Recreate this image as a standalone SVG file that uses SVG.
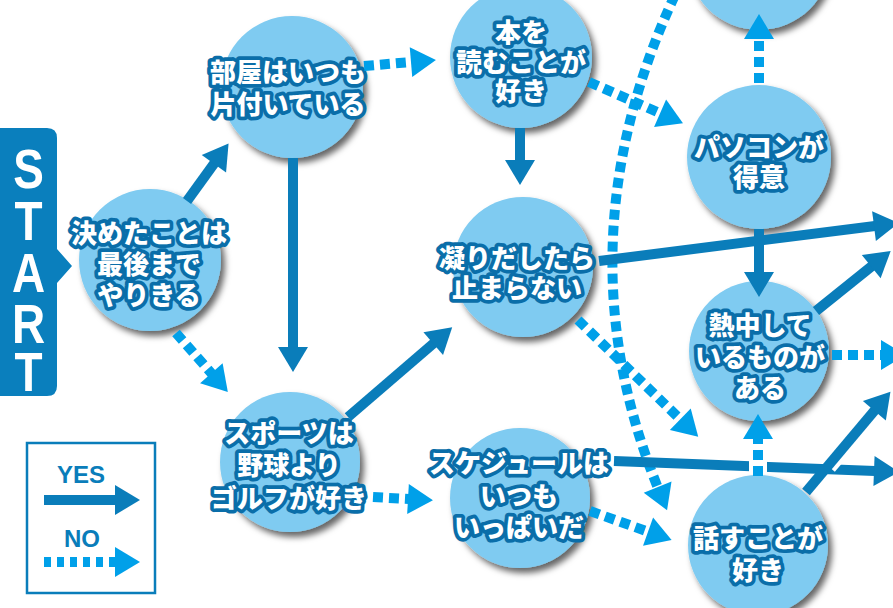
<svg xmlns="http://www.w3.org/2000/svg" width="893" height="608" viewBox="0 0 893 608">
<defs>
<style>
.node circle{fill:#7fcbf1;filter:url(#sh)}
.node text{font-family:"Noto Sans CJK JP","Noto Sans",sans-serif;font-weight:900;font-size:26px;fill:#fff;stroke:#0a6ea9;stroke-width:7.5;stroke-linejoin:round;paint-order:stroke;text-anchor:middle}
.yes{fill:none;stroke:#0a7dba;stroke-width:10;marker-end:url(#ahy)}
.no{fill:none;stroke:#00a0e9;stroke-width:10;stroke-dasharray:10 6;marker-end:url(#ahn)}
.start text{font-family:"Liberation Sans","Noto Sans",sans-serif;font-weight:bold;font-size:56px;fill:#fff;text-anchor:middle}
.lg{font-family:"Liberation Sans","Noto Sans",sans-serif;font-weight:bold;font-size:24px;fill:#0a7dba;text-anchor:middle}
</style>
<filter id="sh" x="-20%" y="-20%" width="150%" height="150%">
<feDropShadow dx="4" dy="5" stdDeviation="3" flood-color="#000" flood-opacity="0.6"/>
</filter>
<marker id="ahy" markerUnits="userSpaceOnUse" markerWidth="30" markerHeight="32" refX="1" refY="15" orient="auto" overflow="visible">
<path d="M0,0 L25,15 L0,30 z" fill="#0a7dba"/>
</marker>
<marker id="ahn" markerUnits="userSpaceOnUse" markerWidth="30" markerHeight="32" refX="1" refY="15" orient="auto" overflow="visible">
<path d="M0,0 L25,15 L0,30 z" fill="#00a0e9"/>
</marker>
</defs>
<rect width="893" height="608" fill="#fff"/>

<g id="start" class="start">
<path d="M-10,128 H47 Q57,128 57,138 V249 L72,266 L57,283 V386 Q57,396 47,396 H-10 z" fill="#0a7fbd"/>
<g transform="translate(28.5,0) scale(0.82,1)">
<text x="0" y="188">S</text>
<text x="0" y="240">T</text>
<text x="0" y="292">A</text>
<text x="0" y="343">R</text>
<text x="0" y="391">T</text>
</g>
</g>

<g id="n1" class="node"><circle cx="150" cy="260" r="71"/>
<text x="149" y="243">決めたことは</text><text x="149" y="274">最後まで</text><text x="149" y="305">やりきる</text></g>
<g id="n2" class="node"><circle cx="292" cy="87" r="71"/>
<text x="288" y="82">部屋はいつも</text><text x="288" y="114">片付いている</text></g>
<g id="n3" class="node"><circle cx="521" cy="57" r="71"/>
<text x="521" y="42">本を</text><text x="521" y="72">読むことが</text><text x="521" y="101">好き</text></g>
<g id="n4" class="node"><circle cx="759" cy="-42" r="72"/></g>
<g id="n5" class="node"><circle cx="759" cy="157" r="72"/>
<text x="759" y="157">パソコンが</text><text x="759" y="187">得意</text></g>
<g id="n6" class="node"><circle cx="523" cy="267" r="70"/>
<text x="517" y="268">凝りだしたら</text><text x="517" y="298">止まらない</text></g>
<g id="n7" class="node"><circle cx="759" cy="351" r="70"/>
<text x="760" y="335">熱中して</text><text x="760" y="367">いるものが</text><text x="760" y="398">ある</text></g>
<g id="n8" class="node"><circle cx="290" cy="462" r="70"/>
<text x="289" y="443">スポーツは</text><text x="289" y="475">野球より</text><text x="289" y="508">ゴルフが好き</text></g>
<g id="n9" class="node"><circle cx="520" cy="498" r="70"/>
<text x="519" y="473">スケジュールは</text><text x="519" y="506">いつも</text><text x="519" y="537">いっぱいだ</text></g>
<g id="n10" class="node"><circle cx="758" cy="545" r="70"/>
<text x="758" y="548">話すことが</text><text x="758" y="580">好き</text></g>

<g id="connectors">
<path class="no" d="M675,-5 Q559,245 658,488"/>
<path class="yes" d="M187,201 L214.5,163"/>
<path class="yes" d="M293,158 L293,348"/>
<path class="yes" d="M520,128 L520,161"/>
<path class="yes" d="M348,417 L434,343"/>
<path class="yes" d="M599,261 L875,226"/>
<path class="yes" d="M759,229 L759,273"/>
<path class="yes" d="M816,311 L872,266"/>
<path class="yes" d="M614,461 L875,471"/>
<path d="M828,466 L852,438" stroke="#fff" stroke-width="18" fill="none"/>
<path class="yes" d="M806,492 L875,410"/>
<path class="no" d="M176,333 L212,374"/>
<path class="no" d="M364,66 L412,62"/>
<path class="no" d="M589,82 L661,113.6"/>
<path class="no" d="M759,83 L759,38"/>
<path class="no" d="M578,320 L681,420"/>
<path class="no" d="M373,497 L409,499"/>
<path class="no" d="M590,511 L649,532"/>
<path class="no" d="M832,355 L882,355"/>
<path d="M758,456 L758,474" stroke="#fff" stroke-width="18" fill="none"/>
<path class="no" d="M758,476 L758,438"/>
</g>

<g id="legend">
<rect x="27" y="443" width="128" height="150" fill="#fff" stroke="#0a7dba" stroke-width="2.5"/>
<text class="lg" x="81" y="483">YES</text>
<path class="yes" d="M44,500 L116,500"/>
<text class="lg" x="82" y="547">NO</text>
<path class="no" d="M44,562 L116,562" style="stroke-dasharray:7 6"/>
</g>
</svg>
